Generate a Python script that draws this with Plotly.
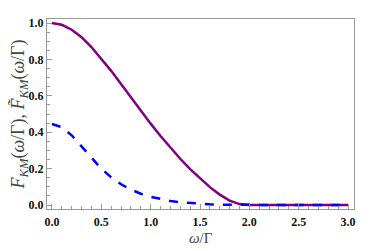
import plotly.graph_objects as go

omega = [0.0, 0.1, 0.2, 0.3, 0.4, 0.5, 0.6, 0.7, 0.8, 0.9, 1.0, 1.1, 1.2, 1.3, 1.4, 1.5,
         1.6, 1.7, 1.8, 1.9, 2.0, 2.2, 2.4, 2.6, 2.8, 3.0]
F_km = [1.0, 0.99, 0.963, 0.922, 0.868, 0.805, 0.737, 0.665, 0.592, 0.518, 0.447, 0.379, 0.315,
        0.254, 0.197, 0.145, 0.098, 0.057, 0.024, 0.005, 0.0, 0.0, 0.0, 0.0, 0.0, 0.0]
F_km_tilde = [0.445, 0.428, 0.383, 0.323, 0.26, 0.2, 0.152, 0.114, 0.085, 0.062, 0.045, 0.032,
              0.022, 0.015, 0.01, 0.006, 0.004, 0.002, 0.001, 0.0, 0.0, 0.0, 0.0, 0.0, 0.0, 0.0]

fig = go.Figure()
fig.add_trace(go.Scatter(x=omega, y=F_km, mode="lines", line=dict(color="#800080", width=2.5),
                         showlegend=False))
fig.add_trace(go.Scatter(x=omega, y=F_km_tilde, mode="lines",
                         line=dict(color="#0000ff", width=2.5, dash="dash"),
                         showlegend=False))

tickfont = dict(family="Liberation Serif", size=12, color="#111", weight="bold")
axis_common = dict(showgrid=False, zeroline=False, showline=True, linecolor="#999", linewidth=1,
                   mirror=True, ticks="inside", ticklen=5, tickcolor="#999", tickfont=tickfont,
                   automargin=False)

fig.update_layout(
    width=366, height=243,
    margin=dict(l=39, r=20, t=11, b=42),
    paper_bgcolor="white", plot_bgcolor="white",
    xaxis=dict(range=[-0.05, 3.06], dtick=0.5, tick0=0, tickformat=".1f",
               minor=dict(ticks="inside", dtick=0.1, ticklen=3, tickcolor="#999"),
               ticklabelstandoff=2,
               **axis_common),
    yaxis=dict(range=[-0.022, 1.022], dtick=0.2, tick0=0, tickformat=".1f",
               minor=dict(ticks="inside", dtick=0.05, ticklen=3, tickcolor="#999"),
               title=dict(text="<i>F</i><sub><i>KM</i></sub>(<i>ω</i>/Γ), <i>F̃</i><sub><i>KM</i></sub>(<i>ω</i>/Γ)",
                          font=dict(family="Liberation Serif", size=18, color="#444"), standoff=2),
               **axis_common),
    annotations=[dict(text="<i>ω</i>/Γ", xref="paper", yref="paper", x=0.5, y=0,
                      xanchor="center", yanchor="middle", yshift=-29, showarrow=False,
                      borderpad=0,
                      font=dict(family="Liberation Serif", size=15, color="#444"))],
)
fig.write_html("out.html")
